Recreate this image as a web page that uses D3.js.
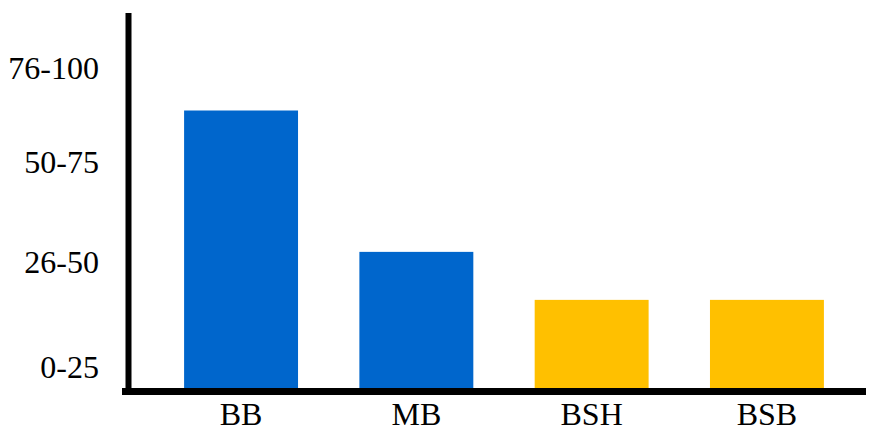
<!DOCTYPE html>
<html>
<head>
<meta charset="utf-8">
<script src="https://cdn.jsdelivr.net/npm/d3@7/dist/d3.min.js"></script>
<style>
  html, body { margin: 0; padding: 0; background: #fff; }
  svg { display: block; }
  text { font-family: "Liberation Serif", "Times New Roman", serif; fill: #000; }
</style>
</head>
<body>
<svg id="chart" width="869" height="432"></svg>
<script>
// ---- data ----
const categories = ["BB", "MB", "BSH", "BSB"];
const values = [74, 36.3, 23.5, 23.5];
const barColors = ["#0066CC", "#0066CC", "#FFC000", "#FFC000"];
const yTickLabels = ["0-25", "26-50", "50-75", "76-100"];
const yTickValues = [5.6, 33.6, 60.3, 85.3];

// ---- layout ----
const W = 869, H = 432;
const svg = d3.select("#chart");

const x = d3.scaleBand()
  .domain(categories)
  .range([128, 880])
  .paddingInner(0.35)
  .paddingOuter(0.32);

const y = d3.scaleLinear().domain([0, 100]).range([388, 13]);

// bars
svg.append("g").selectAll("rect")
  .data(categories)
  .join("rect")
  .attr("x", d => x(d))
  .attr("width", x.bandwidth())
  .attr("y", (d, i) => y(values[i]))
  .attr("height", (d, i) => y(0) - y(values[i]))
  .attr("fill", (d, i) => barColors[i]);

// y axis labels
const yAxis = d3.axisLeft(y)
  .tickValues(yTickValues)
  .tickFormat((d, i) => yTickLabels[i])
  .tickSize(0)
  .tickPadding(29);
const gy = svg.append("g").attr("transform", "translate(128,0)").call(yAxis);
gy.select(".domain").remove();
gy.selectAll("text")
  .attr("font-family", '"Liberation Serif", "Times New Roman", serif')
  .attr("font-size", 32)
  .attr("fill", "#000");

// x axis labels
const xAxis = d3.axisBottom(x).tickSize(0).tickPadding(10);
const gx = svg.append("g").attr("transform", "translate(0,392)").call(xAxis);
gx.select(".domain").remove();
gx.selectAll("text")
  .attr("font-family", '"Liberation Serif", "Times New Roman", serif')
  .attr("font-size", 32)
  .attr("fill", "#000");

// axis lines
svg.append("line")
  .attr("x1", 128.5).attr("x2", 128.5)
  .attr("y1", y.range()[1]).attr("y2", 395)
  .attr("stroke", "#000").attr("stroke-width", 6);
svg.append("line")
  .attr("x1", 122).attr("x2", 866)
  .attr("y1", 391.5).attr("y2", 391.5)
  .attr("stroke", "#000").attr("stroke-width", 7);
</script>
</body>
</html>
